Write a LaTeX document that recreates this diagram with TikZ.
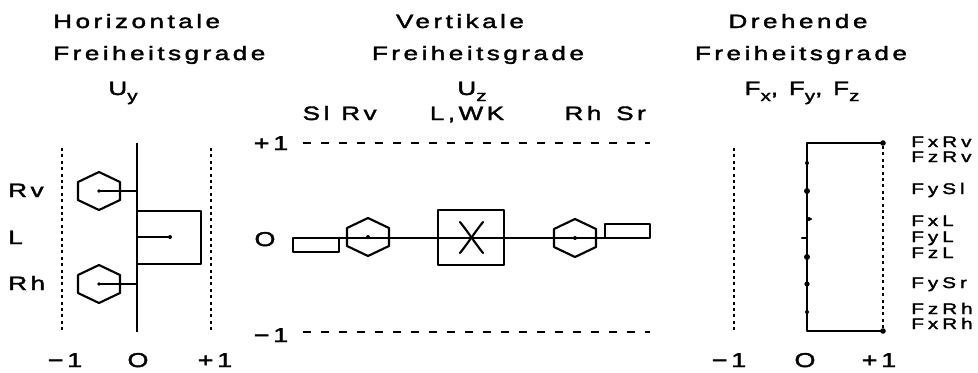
\documentclass[tikz,border=0pt]{standalone}
\usepackage{fontspec}
\setmainfont{Liberation Sans}[FakeStretch=1.35, LetterSpace=18, FakeBold=2]
\newcommand\lowsub[1]{\raisebox{-4.5pt}{\fontsize{11.5}{11.5}\selectfont #1}}
\begin{document}
\begin{tikzpicture}[x=0.75pt,y=-0.75pt,
  title/.style={font=\fontsize{14.5}{14}\selectfont, inner sep=0pt, anchor=base},
  lab/.style={font=\fontsize{14.5}{14}\selectfont, inner sep=0pt, anchor=base},
  rlab/.style={font=\fontsize{11.5}{12}\selectfont\addfontfeature{LetterSpace=26}, inner sep=0pt, anchor=base west, text height=7pt, text depth=0.5pt},
  num/.style={font=\fontsize{15}{15}\selectfont, inner sep=0pt, anchor=base},
  ln/.style={line width=1.6pt, line cap=round, line join=round},
  axis/.style={line width=2pt},
  dotv/.style={line width=2pt, dash pattern=on 2.2pt off 2.6pt},
  dashh/.style={line width=1.7pt, dash pattern=on 6pt off 7.5pt}
]
\useasboundingbox (0,0) rectangle (978,372);
\newcommand\hexat[1]{\draw[ln] (#1) +(-21,-9) -- +(0,-19) -- +(21,-9) -- +(21,9) -- +(0,19) -- +(-21,9) -- cycle;}

% ---------- titles ----------
\node[title, anchor=base west] (t1a) at (53,28) {Horizontale};
\node[title, anchor=base west] (t1b) at (53,60) {Freiheitsgrade};
\node[title] (t1c) at (123,95) {U\lowsub{y}};
\node[title] (t2a) at (460,28) {Vertikale};
\node[title] (t2b) at (478,60) {Freiheitsgrade};
\node[title] (t2c) at (472,95) {U\lowsub{z}};
\node[title] (t3a) at (798,28) {Drehende};
\node[title] (t3b) at (801,60) {Freiheitsgrade};
\node[title] (t3c) at (802,95) {F\lowsub{x}, F\lowsub{y}, F\lowsub{z}};

% ---------- left panel ----------
\coordinate (la0) at (137,143);
\coordinate (la1) at (137,332);
\draw[axis] (la0) -- (la1);
\draw[dotv] (62,148) -- (62,332);
\draw[dotv] (211,148) -- (211,332);
\node[lab, anchor=base west] (lrv) at (8,197) {Rv};
\node[lab, anchor=base west] (ll) at (8,244) {L};
\node[lab, anchor=base west] (lrh) at (8,290) {Rh};
\coordinate (hrv) at (99,191);
\coordinate (hrh) at (99,284);
\hexat{hrv}
\hexat{hrh}
\draw[ln] (hrv) -- (137,191);
\draw[ln] (hrh) -- (137,284);
\fill (hrv) circle (1.8);
\fill (hrh) circle (1.8);
\draw[ln] (137,211) rectangle (201,264);
\coordinate (lsq) at (170,237);
\draw[ln] (137,237) -- (lsq);
\fill (lsq) circle (2);
\node[num] (lm1) at (65,367) {−1};
\node[num] (l0) at (138,367) {O};
\node[num] (lp1) at (215,367) {+1};

% ---------- middle panel ----------
\node[lab] (msl) at (316,120) {Sl};
\node[lab] (mrv) at (359,120) {Rv};
\node[lab] (mlwk) at (467,120) {L,WK};
\node[lab] (mrh) at (583,120) {Rh};
\node[lab] (msr) at (631,120) {Sr};
\node[num] (mp1) at (271,150) {+1};
\node[num] (m0) at (265,246) {O};
\node[num] (mm1) at (271,342) {−1};
\draw[dashh] (303,143) -- (650,143);
\draw[dashh] (303,332) -- (650,332);
\coordinate (ma0) at (339,238);
\coordinate (ma1) at (605,238);
\draw[ln] (ma0) -- (ma1);
\draw[ln] (293,238) rectangle (339,252);
\draw[ln] (605,224) rectangle (650,238);
\coordinate (mhv) at (368,237);
\coordinate (mhh) at (575,238);
\hexat{mhv}
\hexat{mhh}
\fill (mhv) circle (2);
\fill (mhh) circle (2);
\draw[ln] (438,210) rectangle (504,265);
\draw[ln] (460,222) .. controls (468,232) and (475,243) .. (483,253);
\draw[ln] (483,222) .. controls (475,232) and (468,243) .. (460,253);

% ---------- right panel ----------
\draw[dotv] (734,148) -- (734,332);
\draw[dotv] (883,146) -- (883,331);
\coordinate (r0) at (883,143);
\coordinate (r1) at (807,143);
\coordinate (r2) at (807,331);
\coordinate (r3) at (883,331);
\draw[ln] (r0) -- (r1) -- (r2) -- (r3);
\fill (r0) circle (2.8);
\fill (r3) circle (2.8);
\fill (807,163) circle (2);
\fill (807,191) circle (3);
\draw[ln] (807,219) -- (811,219);
\fill (809,219) circle (2);
\draw[ln] (802,238) -- (807,238);
\fill (807,257) circle (3);
\fill (807,284) circle (2.6);
\fill (807,312) circle (2);
\node[rlab] (f1) at (911,147) {FxRv};
\node[rlab] (f2) at (911,162) {FzRv};
\node[rlab] (f3) at (911,194) {FySl};
\node[rlab] (f4) at (911,226) {FxL};
\node[rlab] (f5) at (911,242) {FyL};
\node[rlab] (f6) at (911,258) {FzL};
\node[rlab] (f7) at (911,288) {FySr};
\node[rlab] (f8) at (911,314) {FzRh};
\node[rlab] (f9) at (911,329) {FxRh};
\node[num] (rm1) at (729,367) {−1};
\node[num] (r00) at (805,367) {O};
\node[num] (rp1) at (879,367) {+1};
\end{tikzpicture}
\end{document}
